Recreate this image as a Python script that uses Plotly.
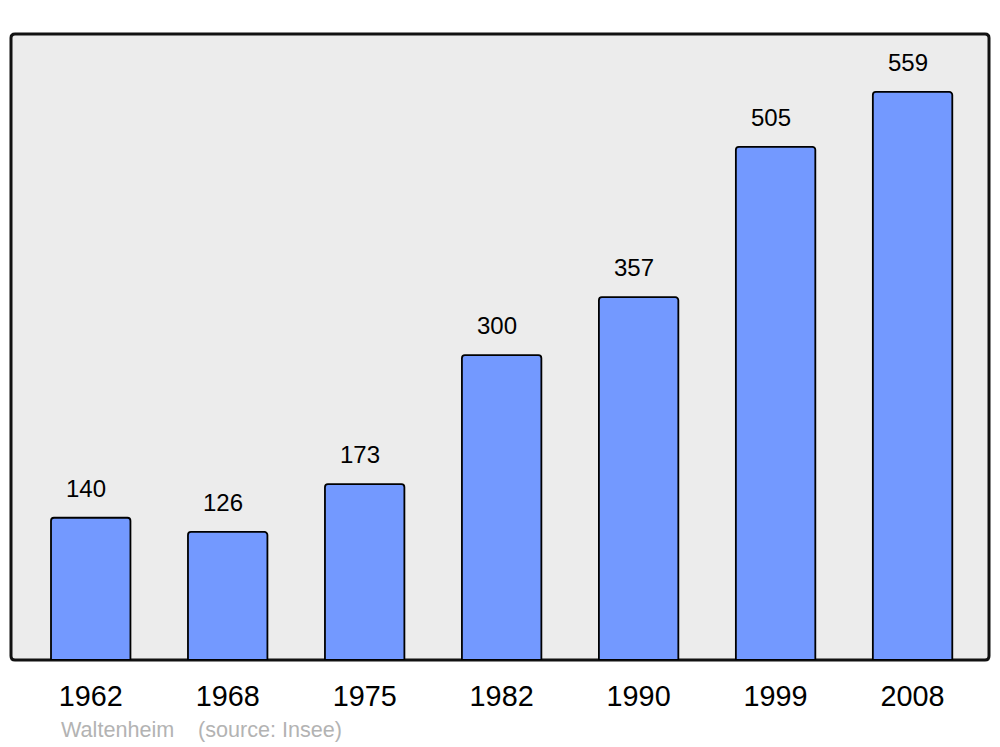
import plotly.graph_objects as go

# Population data
years = ["1962", "1968", "1975", "1982", "1990", "1999", "2008"]
population = [140, 126, 173, 300, 357, 505, 559]

town = "Waltenheim"
source = "(source: Insee)"

FONT = "Liberation Sans, Arial, sans-serif"

fig = go.Figure()

fig.add_trace(go.Bar(
    x=years,
    y=population,
    width=0.58,
    marker=dict(color="#7399ff", line=dict(color="#000000", width=1.8), cornerradius=3),
    showlegend=False,
    hoverinfo="x+y",
))

# value labels above each bar (category index, since the years look numeric)
for i, val in enumerate(population):
    fig.add_annotation(x=i, y=val, text=str(val), showarrow=False,
                       yanchor="bottom", yshift=14, xshift=-5,
                       font=dict(family=FONT, size=24, color="#000000"))

# rounded frame around the plot area
rx, ry = 4 / 978, 4 / 626
frame = (f"M {rx},0 L {1-rx},0 Q 1,0 1,{ry} L 1,{1-ry} Q 1,1 {1-rx},1 "
         f"L {rx},1 Q 0,1 0,{1-ry} L 0,{ry} Q 0,0 {rx},0 Z")
fig.add_shape(type="path", path=frame, xref="paper", yref="paper",
              fillcolor="#ececec", line=dict(color="#111111", width=3), layer="below")

# footer
fig.add_annotation(x=(59 - 11) / 978, y=(660 - 729) / 626, xref="paper", yref="paper",
                   text=town, showarrow=False, xanchor="left", yanchor="middle",
                   font=dict(family=FONT, size=21.6, color="#b3b3b3"))
fig.add_annotation(x=(196 - 11) / 978, y=(660 - 729) / 626, xref="paper", yref="paper",
                   text=source, showarrow=False, xanchor="left", yanchor="middle",
                   font=dict(family=FONT, size=21.6, color="#b3b3b3"))

fig.update_layout(
    width=1000, height=747,
    margin=dict(l=11, r=11, t=34, b=87),
    paper_bgcolor="#ffffff",
    plot_bgcolor="rgba(0,0,0,0)",
    font=dict(family=FONT, color="#000000"),
    bargap=0.42,
)
fig.update_xaxes(type="category", range=[-0.582, 6.558], showgrid=False, zeroline=False,
                 showline=False, ticks="", ticklabelstandoff=16,
                 tickfont=dict(size=28.8, color="#000000"))
fig.update_yaxes(range=[0, 616], showgrid=False, zeroline=False, showline=False,
                 showticklabels=False, ticks="")

fig.write_html("out.html", config={"displayModeBar": False},
               post_script="document.body.style.margin='0';")
